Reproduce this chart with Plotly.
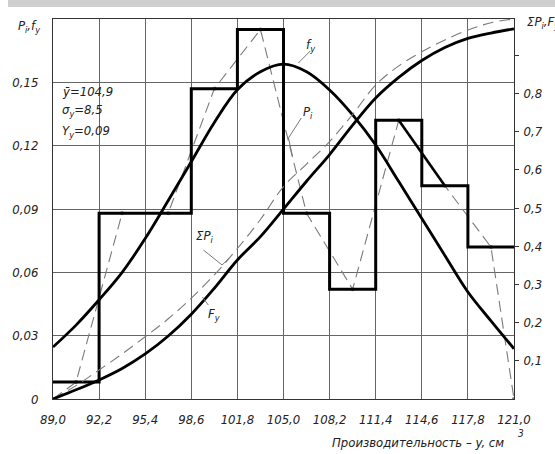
import plotly.graph_objects as go

# ---------------- data ----------------
edges = [89.0, 92.2, 95.4, 98.6, 101.8, 105.0, 108.2, 111.4, 114.6, 117.8, 121.0]
edge_labels = ["89,0", "92,2", "95,4", "98,6", "101,8", "105,0", "108,2", "111,4", "114,6", "117,8", "121,0"]
mids = [90.6, 93.8, 97.0, 100.2, 103.4, 106.6, 109.8, 113.0, 116.2, 119.4]
P_i = [0.008, 0.088, 0.088, 0.147, 0.175, 0.088, 0.052, 0.132, 0.101, 0.072]

curve_x = [89.0, 90.6, 92.2, 93.8, 95.4, 97.0, 98.6, 100.2, 101.8, 103.4, 105.0,
           106.6, 108.2, 109.8, 111.4, 113.0, 114.6, 116.2, 117.8, 119.4, 121.0]
f_y = [0.0246, 0.035, 0.047, 0.060, 0.076, 0.094, 0.1124, 0.131, 0.1465, 0.155, 0.1586,
       0.155, 0.1464, 0.1346, 0.1203, 0.103, 0.0855, 0.068, 0.0507, 0.037, 0.0238]
F_y = [0.0, 0.024, 0.05, 0.08, 0.118, 0.165, 0.222, 0.29, 0.364, 0.425, 0.497,
       0.57, 0.64, 0.717, 0.788, 0.842, 0.886, 0.92, 0.944, 0.958, 0.969]
sum_P = [0.0, 0.035, 0.076, 0.118, 0.163, 0.21, 0.264, 0.325, 0.394, 0.47, 0.556,
         0.615, 0.674, 0.745, 0.822, 0.872, 0.909, 0.94, 0.966, 0.985, 0.995]

left_ticks = [0, 0.03, 0.06, 0.09, 0.12, 0.15, 0.18]
left_labels = ["0", "0,03", "0,06", "0,09", "0,12", "0,15", ""]
right_ticks = [0.1, 0.2, 0.3, 0.4, 0.5, 0.6, 0.7, 0.8, 0.9]
right_labels = ["0,1", "0,2", "0,3", "0,4", "0,5", "0,6", "0,7", "0,8", ""]

stats = ["ȳ=104,9", "σ<sub>y</sub>=8,5", "Y<sub>y</sub>=0,09"]

# ---------------- layout helpers ----------------
W, H = 555, 454
L, R, T, B = 49, 515, 19, 399
FONT = "Liberation Sans Narrow, DejaVu Sans Condensed, Liberation Sans, sans-serif"


def px(x, y):
    return (x - L) / (R - L), (B - y) / (B - T)


fig = go.Figure()

poly_x = [edges[0]] + mids + [edges[-1]]
poly_y = [0] + P_i + [0]

# dashed cumulative (right axis)
fig.add_trace(go.Scatter(x=curve_x, y=sum_P, yaxis="y2", mode="lines", line_shape="spline",
                         line=dict(color="#7a7a7a", width=1.1, dash="11px,6px"), hoverinfo="skip"))
# dashed frequency polygon
fig.add_trace(go.Scatter(x=poly_x, y=poly_y, mode="lines+markers",
                         line=dict(color="#7a7a7a", width=1.1, dash="11px,6px"),
                         marker=dict(size=4, color="#7a7a7a"), hoverinfo="skip"))
# histogram steps
fig.add_trace(go.Scatter(x=edges, y=P_i + [P_i[-1]], mode="lines", line_shape="hv",
                         line=dict(color="black", width=3), hoverinfo="skip"))
# solid polygon segment (as drawn)
fig.add_trace(go.Scatter(x=mids[7:9], y=P_i[7:9], mode="lines",
                         line=dict(color="black", width=2.6), hoverinfo="skip"))
# normal density
fig.add_trace(go.Scatter(x=curve_x, y=f_y, mode="lines", line_shape="spline",
                         line=dict(color="black", width=2.8), hoverinfo="skip"))
# normal cdf (right axis)
fig.add_trace(go.Scatter(x=curve_x, y=F_y, yaxis="y2", mode="lines", line_shape="spline",
                         line=dict(color="black", width=2.8), hoverinfo="skip"))

annots = []


def text(s, x, y, size=13, xa="center", ya="middle", color="#222"):
    xp, yp = px(x, y)
    annots.append(dict(text=s, x=xp, y=yp, xref="paper", yref="paper", showarrow=False,
                       xanchor=xa, yanchor=ya, font=dict(size=size, color=color, family=FONT, style="italic")))


text("P<sub>i</sub>,f<sub>y</sub>", 38, 27, xa="right")
text("ΣP<sub>i</sub>,F<sub>y</sub>", 526, 22, xa="left")
for i, s in enumerate(stats):
    text(s, 56, 91 + 20 * i, xa="left")
text("f<sub>y</sub>", 309, 45)
text("P<sub>i</sub>", 307, 112)
text("ΣP<sub>i</sub>", 202, 236)
text("F<sub>y</sub>", 212, 314)
text("Производительность – y, см", 507, 442, xa="right")
text("3", 522, 433, size=10)

shapes = []


def seg(pts, color="#777", width=1):
    for (x0, y0), (x1, y1) in zip(pts[:-1], pts[1:]):
        a, b = px(x0, y0)
        c, d = px(x1, y1)
        shapes.append(dict(type="line", xref="paper", yref="paper", x0=a, y0=b, x1=c, y1=d,
                           line=dict(color=color, width=width)))


seg([(297, 63), (309, 51)])
seg([(300, 118), (287, 138), (291, 156)])
seg([(201, 250), (220, 265), (227, 258)])
seg([(200, 297), (206, 305)])

fig.update_layout(
    width=W, height=H, autosize=False,
    margin=dict(l=L, r=W - R, t=T, b=H - B, pad=0),
    paper_bgcolor="white", plot_bgcolor="white",
    showlegend=False,
    font=dict(family=FONT, size=13, color="#222", style="italic"),
    xaxis=dict(range=[edges[0], edges[-1]], tickvals=edges, ticktext=edge_labels,
               showgrid=True, gridcolor="#666", gridwidth=1, zeroline=False,
               showline=True, linecolor="#333", linewidth=1, mirror=True,
               ticks="", ticklabelstandoff=8, tickfont=dict(size=13)),
    yaxis=dict(range=[0, 0.18], tickvals=left_ticks, ticktext=left_labels,
               showgrid=True, gridcolor="#666", gridwidth=1, zeroline=False,
               showline=True, linecolor="#333", linewidth=1, mirror=True,
               ticks="", ticklabelstandoff=11, tickfont=dict(size=13)),
    yaxis2=dict(range=[0, (B - T) / 382], overlaying="y", side="right",
                tickvals=right_ticks, ticktext=right_labels, showgrid=False, zeroline=False,
                showline=False, ticks="outside", ticklen=4, tickcolor="#333",
                ticklabelstandoff=2, tickfont=dict(size=13)),
    annotations=annots, shapes=shapes,
)

post = (
    "document.body.style.margin='0';document.body.style.overflow='hidden';"
    "var band=document.createElement('div');"
    "band.style.cssText='position:absolute;left:8px;top:0;width:547px;height:7px;background:#cfcfcf;z-index:10;';"
    "document.body.appendChild(band);"
)
fig.write_html("out.html", config={"displayModeBar": False}, post_script=post)
